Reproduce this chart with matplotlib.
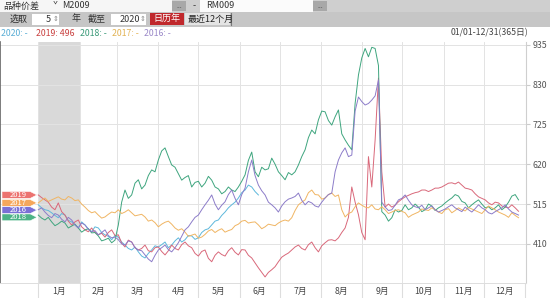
import numpy as np
import matplotlib
matplotlib.use("Agg")
import matplotlib.pyplot as plt
from matplotlib.patches import Rectangle, Polygon

plt.rcParams['font.family'] = ['Noto Sans CJK SC', 'DejaVu Sans']

# ============================================================
# 数据: 品种价差 M2009 - RM009, 每2.5天一个点 (第0天 = 1月1日)
# ============================================================

days = np.arange(0, 365, 2.5)

v2020 = [513, 505, 500, 498, 492, 485, 479, 490, 486, 472,
         468, 460, 452, 468, 460, 450, 442, 455, 452, 440,
         434, 430, 421, 432, 428, 415, 407, 398, 394, 402,
         389, 378, 373, 385, 394, 405, 402, 408, 415, 400,
         407, 418, 426, 415, 421, 432, 431, 422, 426, 440,
         447, 450, 460, 470, 473, 485, 494, 505, 513, 520,
         531, 545, 552, 565, 560, 548, 539]

v2019 = [539, 532, 526, 520, 507, 500, 518, 495, 486, 470,
         460, 468, 473, 455, 447, 442, 452, 440, 434, 438,
         428, 440, 447, 432, 434, 412, 402, 420, 415, 400,
         394, 398, 407, 392, 389, 400, 402, 390, 381, 392,
         407, 398, 394, 408, 415, 405, 400, 385, 378, 390,
         394, 372, 363, 380, 389, 382, 378, 392, 400, 388,
         381, 395, 394, 380, 373, 360, 347, 335, 323, 335,
         342, 350, 363, 375, 381, 386, 394, 402, 407, 398,
         394, 408, 415, 400, 389, 405, 413, 420, 421, 418,
         426, 440, 452, 480, 560, 520, 487, 440, 421, 640,
         560, 684, 847, 600, 507, 515, 507, 512, 521, 528,
         534, 538, 542, 545, 547, 552, 552, 548, 552, 557,
         557, 560, 565, 570, 571, 568, 573, 565, 557, 555,
         552, 542, 534, 530, 526, 518, 513, 520, 518, 510,
         507, 505, 513, 505, 496]

v2018 = [486, 478, 473, 480, 468, 458, 463, 470, 465, 452,
         457, 462, 452, 441, 447, 450, 439, 440, 431, 418,
         421, 425, 413, 420, 460, 520, 552, 530, 539, 570,
         579, 555, 565, 590, 605, 600, 631, 655, 663, 640,
         618, 612, 595, 578, 585, 590, 560, 572, 575, 560,
         570, 588, 578, 560, 555, 542, 548, 560, 552, 548,
         560, 575, 592, 630, 652, 600, 587, 612, 605, 608,
         636, 620, 600, 590, 579, 598, 592, 600, 618, 640,
         658, 690, 710, 700, 737, 760, 758, 735, 723, 745,
         763, 700, 684, 670, 658, 780, 855, 900, 925, 903,
         928, 925, 880, 495, 486, 470, 479, 500, 494, 498,
         513, 500, 505, 515, 507, 495, 500, 515, 510, 498,
         505, 510, 518, 525, 531, 540, 536, 522, 518, 505,
         513, 520, 526, 515, 505, 508, 500, 505, 513, 500,
         507, 520, 536, 540, 526]

v2017 = [518, 525, 531, 522, 526, 530, 534, 528, 526, 535,
         531, 524, 526, 515, 507, 498, 492, 495, 486, 478,
         481, 488, 494, 492, 500, 490, 494, 500, 492, 484,
         486, 488, 481, 470, 473, 466, 455, 462, 467, 470,
         462, 452, 446, 450, 441, 430, 433, 436, 425, 428,
         435, 444, 448, 440, 446, 450, 441, 445, 448, 458,
         462, 470, 472, 465, 467, 468, 460, 450, 455, 462,
         460, 458, 465, 470, 473, 470, 479, 498, 513, 520,
         526, 545, 552, 540, 539, 528, 531, 540, 544, 535,
         539, 500, 481, 490, 494, 508, 518, 512, 507, 505,
         513, 502, 500, 508, 500, 490, 494, 498, 500, 496,
         492, 480, 486, 490, 494, 502, 500, 498, 505, 500,
         494, 490, 500, 503, 492, 498, 505, 500, 497, 506,
         502, 498, 494, 490, 500, 510, 505, 500, 494, 490,
         486, 480, 492, 485, 479]

v2016 = [500, 505, 494, 485, 479, 490, 486, 475, 468, 480,
         473, 460, 452, 465, 460, 448, 442, 445, 434, 440,
         447, 432, 426, 428, 421, 410, 407, 418, 415, 400,
         394, 392, 381, 370, 363, 380, 394, 400, 407, 395,
         389, 400, 413, 430, 447, 455, 468, 480, 486, 500,
         513, 525, 539, 515, 500, 512, 521, 540, 552, 530,
         513, 540, 557, 600, 631, 590, 565, 550, 539, 520,
         513, 505, 494, 510, 521, 528, 531, 535, 544, 525,
         513, 522, 518, 510, 507, 520, 531, 540, 544, 600,
         631, 650, 663, 640, 644, 760, 797, 785, 776, 780,
         789, 800, 842, 520, 507, 498, 500, 512, 526, 530,
         539, 525, 513, 508, 505, 512, 500, 505, 510, 500,
         494, 498, 502, 508, 513, 505, 500, 495, 507, 500,
         494, 503, 513, 505, 500, 492, 489, 495, 500, 505,
         513, 502, 494, 490, 486]

years = ['2020', '2019', '2018', '2017', '2016']
series = [v2020, v2019, v2018, v2017, v2016]
line_colors = ['#5db8dc', '#d9687a', '#3ea57e', '#f0b563', '#8c7cc9']
text_colors = ['#5aaed6', '#c9403f', '#3a9a78', '#e2b252', '#9a88c8']
tag_colors = {'2019': '#ec7370', '2017': '#f5a75c', '2016': '#7b70d6', '2018': '#4db387'}

month_start = [0, 31, 59, 90, 120, 151, 181, 212, 243, 273, 304, 334, 365]
month_names = ['1月', '2月', '3月', '4月', '5月', '6月', '7月', '8月', '9月', '10月', '11月', '12月']
y_ticks = [410, 515, 620, 725, 830, 935]

# ============================================================
# 画布 + 工具栏 (像素坐标)
# ============================================================

W, H = 550, 298
fig = plt.figure(figsize=(W / 100, H / 100), dpi=100)

ui = fig.add_axes([0, 0, 1, 1])
ui.set_xlim(0, W)
ui.set_ylim(H, 0)
ui.axis('off')


def box(x, y, w, h, fc, ec='none', lw=0.0):
    ui.add_patch(Rectangle((x, y), w, h, facecolor=fc, edgecolor=ec, linewidth=lw))


def label(x, y, s, color='#333333', size=6.5, ha='left'):
    ui.text(x, y, s, color=color, fontsize=size, ha=ha, va='center')


# 第一行
box(0, 0, W, 11.5, '#cfcfcf')
box(0, 0, 172, 11.5, '#f6f6f6')
box(200, 0, 113, 11.5, '#fbfbfb')
box(172, 0.5, 14, 10.5, '#a8a8a8')
box(313, 0.5, 14, 10.5, '#a8a8a8')
label(3, 6, '品种价差')
label(53, 5, 'ˇ', size=6)
label(62, 6, 'M2009')
label(179, 6, '...', color='#555555', size=5, ha='center')
label(320, 6, '...', color='#555555', size=5, ha='center')
label(193, 6, '-')
label(206, 6, 'RM009')

# 第二行
box(0, 11.5, W, 15, '#c6c6c6')
box(32, 13.5, 27, 11, '#ffffff')
box(111, 13.5, 35, 11, '#ffffff')
box(150, 13, 34, 12, '#c0282c')
box(185, 13, 45, 12, '#e4e4e4')
ui.plot([230.5, 230.5], [13, 25], color='#777777', lw=0.8)
label(10, 19, '选取')
label(51, 19, '5', ha='right')
label(55.5, 19, '⇕', size=5, color='#888888', ha='center')
label(72, 19, '年')
label(88, 19, '截至')
label(140, 19, '2020', ha='right')
label(143, 19, '⇕', size=5, color='#888888', ha='center')
label(167, 19, '日历年', color='white', ha='center')
label(188, 19, '最近12个月', color='#222222')

# 第三行: 图例文字
box(0, 26.5, W, 16, '#ffffff')
legend_x = [1, 36, 80, 112, 144]
for i in range(len(years)):
    val = str(series[i][-1]) if years[i] == '2019' else '-'
    label(legend_x[i], 33, f'{years[i]}: {val}', color=text_colors[i], size=6.3)
label(528, 33, '01/01-12/31(365日)', color='#444444', size=6.3, ha='right')

# 底部月份栏
box(0, 283, W, H - 283, '#ffffff')

# ============================================================
# 主图
# ============================================================

top_px, bot_px, right_px = 42, 283, 526
ax = fig.add_axes([0, (H - bot_px) / H, right_px / W, (bot_px - top_px) / H])
ax.set_facecolor('white')
ax.set_xlim(-28.7, 365.6)
ax.set_ylim(307, 942)

# 1月灰色区域
ax.axvspan(month_start[0], month_start[1], color='#d9d9d9', lw=0, zorder=0)

for yv in y_ticks:
    ax.axhline(yv, color='#e3e3e3', lw=0.7, zorder=0.5)
for d in month_start[:-1]:
    ax.axvline(d, color='#e3e3e3', lw=0.7, zorder=0.5)

for i in range(len(years)):
    vals = series[i]
    ax.plot(days[:len(vals)], vals, color=line_colors[i], lw=0.7, zorder=2)

# 左侧年份标签 (箭头形)
tag_years = [y for y in years if y in tag_colors]
first_vals = {y: series[years.index(y)][0] for y in tag_years}
order = sorted(tag_years, key=lambda y: -first_vals[y])
pos = {}
prev = None
for y in order:
    p = first_vals[y]
    if prev is not None and prev - p < 19:
        p = prev - 19
    pos[y] = p
    prev = p

hh = 9.0
for y in order:
    c = pos[y]
    pts = [(-27.2, c - hh), (-6, c - hh), (-1, c), (-6, c + hh), (-27.2, c + hh)]
    ax.add_patch(Polygon(pts, closed=True, facecolor=tag_colors[y], edgecolor='white',
                         lw=0.4, zorder=4))
    ax.text(-15, c, y, color='white', fontsize=5.5, ha='center', va='center', zorder=5)

# 坐标轴
ax.yaxis.tick_right()
ax.set_yticks(y_ticks)
ax.set_yticklabels([str(v) for v in y_ticks])
ax.tick_params(axis='y', which='major', length=3, color='#cccccc', pad=2,
               labelsize=6.3, labelcolor='#555555')

ax.set_xticks(month_start)
ax.set_xticklabels([])
mids = [(month_start[i] + month_start[i + 1]) / 2 for i in range(12)]
ax.set_xticks(mids, minor=True)
ax.set_xticklabels(month_names, minor=True)
ax.tick_params(axis='x', which='major', length=14, color='#dddddd', direction='out')
ax.tick_params(axis='x', which='minor', length=0, pad=3, labelsize=6.3, labelcolor='#444444')

ax.spines['top'].set_visible(False)
ax.spines['right'].set_color('#cfcfcf')
ax.spines['right'].set_linewidth(0.8)
ax.spines['bottom'].set_color('#dddddd')
ax.spines['bottom'].set_linewidth(0.7)
ax.spines['left'].set_color('#666666')
ax.spines['left'].set_linewidth(1.2)

fig.savefig('out.png', dpi=100)
